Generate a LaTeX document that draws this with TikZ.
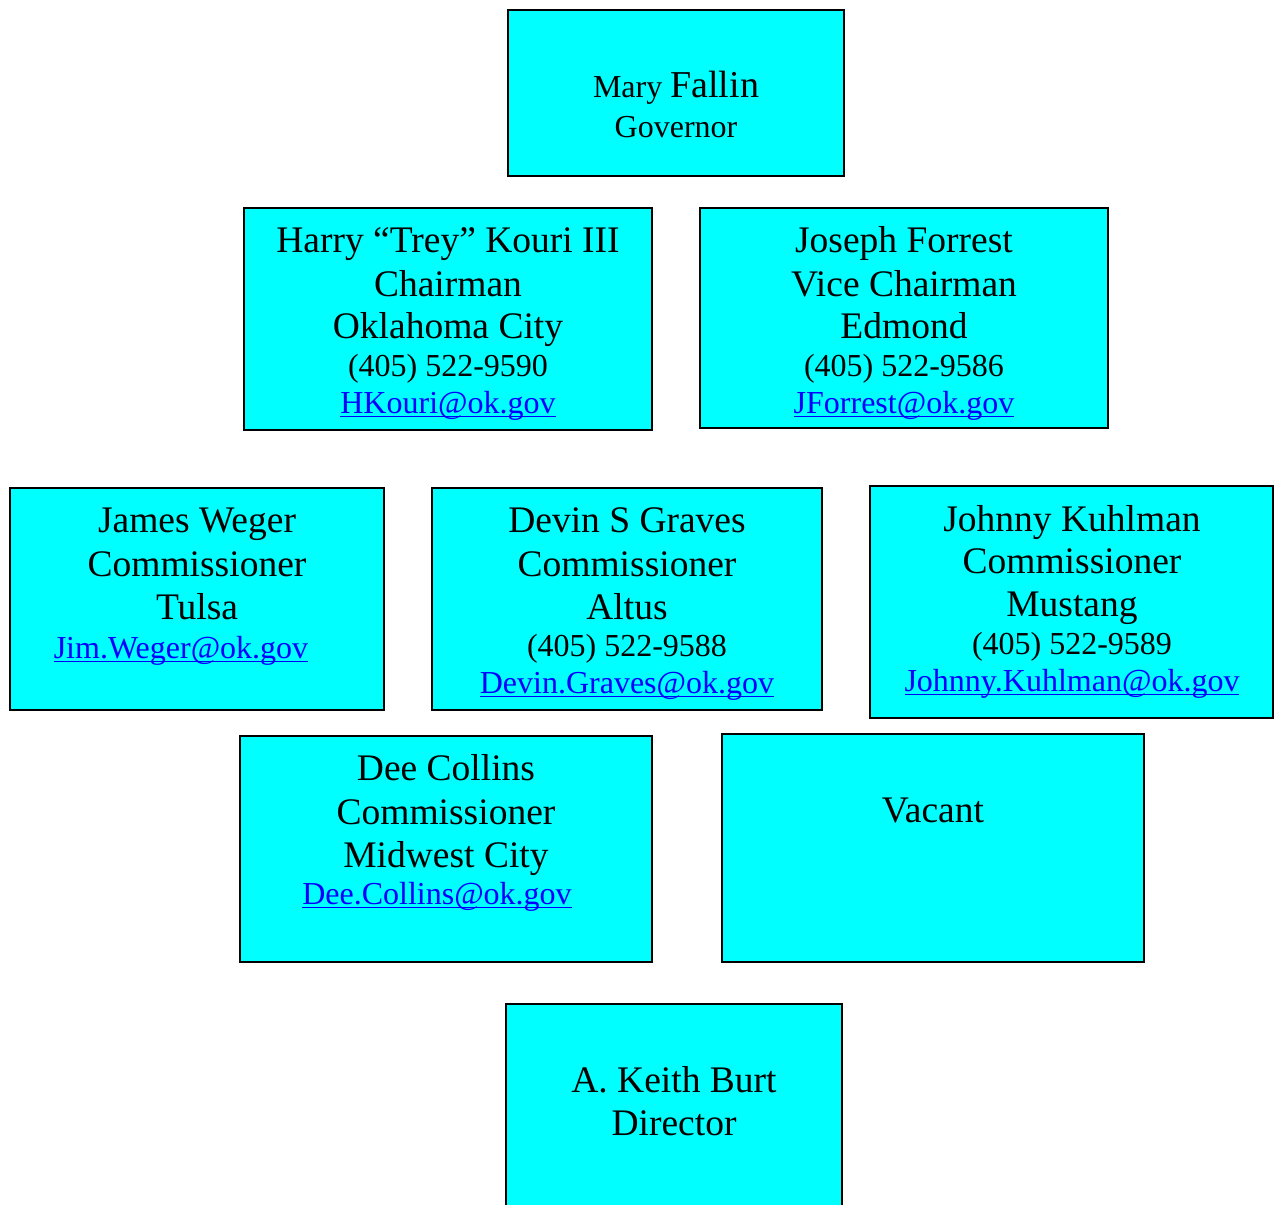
\documentclass[tikz,border=0pt]{standalone}
\usepackage{fontspec}
\setmainfont{Liberation Serif}
\usepackage{tikz}

\definecolor{aqua}{RGB}{0,255,255}

% underlined mail address
\newcommand{\maillink}[1]{\setbox0\hbox{#1}\rlap{\rule[-2pt]{\wd0}{0.65pt}}\box0}

\tikzset{
  card/.style 2 args={draw,fill=aqua,line width=1.1pt,inner sep=0pt,minimum width=#1,minimum height=#2},
  big/.style={anchor=base,inner sep=0pt,font=\fontsize{18.75}{21}\selectfont},
  small/.style={anchor=base,inner sep=0pt,font=\fontsize{16}{18}\selectfont},
  mail/.style={small,text=blue}
}

\begin{document}
\begin{tikzpicture}[x=0.5pt,y=-0.5pt]
\useasboundingbox (0,0) rectangle (1275,1205);
\clip (0,0) rectangle (1275,1205);
% boxes
\node[card={168pt}{83pt}] (fallin) at (676,93) {};
\node[card={204pt}{111pt}] (kouri) at (448,319) {};
\node[card={204pt}{110pt}] (forrest) at (904,318) {};
\node[card={187pt}{111pt}] (weger) at (197,599) {};
\node[card={195pt}{111pt}] (graves) at (627,599) {};
\node[card={201.5pt}{116pt}] (kuhlman) at (1071.5,602) {};
\node[card={206pt}{113pt}] (collins) at (446,849) {};
\node[card={211pt}{114pt}] (vacant) at (933,848) {};
\node[card={168pt}{130pt}] (burt) at (674,1134) {};
% texts
\node[anchor=base,inner sep=0pt] (fallin1) at (676,97) {\fontsize{16}{18}\selectfont Mary \fontsize{19}{21}\selectfont Fallin};
\node[small] (fallin2) at (676,137) {Governor};

\node[big] (kouri1) at (448,252) {Harry “Trey” Kouri III};
\node[big] (kouri2) at (448,296) {Chairman};
\node[big] (kouri3) at (448,338) {Oklahoma City};
\node[small] (kouri4) at (448,376) {(405) 522-9590};
\node[mail] (kouri5) at (448,413) {\maillink{HKouri@ok.gov}};

\node[big] (forrest1) at (904,252) {Joseph Forrest};
\node[big] (forrest2) at (904,296) {Vice Chairman};
\node[big] (forrest3) at (904,338) {Edmond};
\node[small] (forrest4) at (904,376) {(405) 522-9586};
\node[mail] (forrest5) at (904,413) {\maillink{JForrest@ok.gov}};

\node[big] (weger1) at (197,532) {James Weger};
\node[big] (weger2) at (197,576) {Commissioner};
\node[big] (weger3) at (197,619) {Tulsa};
\node[mail] (weger4) at (181,658) {\maillink{Jim.Weger@ok.gov}};

\node[big] (graves1) at (627,532) {Devin S Graves};
\node[big] (graves2) at (627,576) {Commissioner};
\node[big] (graves3) at (627,619) {Altus};
\node[small] (graves4) at (627,656) {(405) 522-9588};
\node[mail] (graves5) at (627,693) {\maillink{Devin.Graves@ok.gov}};

\node[big] (kuhlman1) at (1072,531) {Johnny Kuhlman};
\node[big] (kuhlman2) at (1072,573) {Commissioner};
\node[big] (kuhlman3) at (1072,616) {Mustang};
\node[small] (kuhlman4) at (1072,654) {(405) 522-9589};
\node[mail] (kuhlman5) at (1072,691) {\maillink{Johnny.Kuhlman@ok.gov}};

\node[big] (collins1) at (446,780) {Dee Collins};
\node[big] (collins2) at (446,824) {Commissioner};
\node[big] (collins3) at (446,867) {Midwest City};
\node[mail] (collins4) at (437,904) {\maillink{Dee.Collins@ok.gov}};

\node[big] (vacant1) at (933,822) {Vacant};

\node[big] (burt1) at (674,1092) {A. Keith Burt};
\node[big] (burt2) at (674,1135) {Director};
\end{tikzpicture}
\end{document}
